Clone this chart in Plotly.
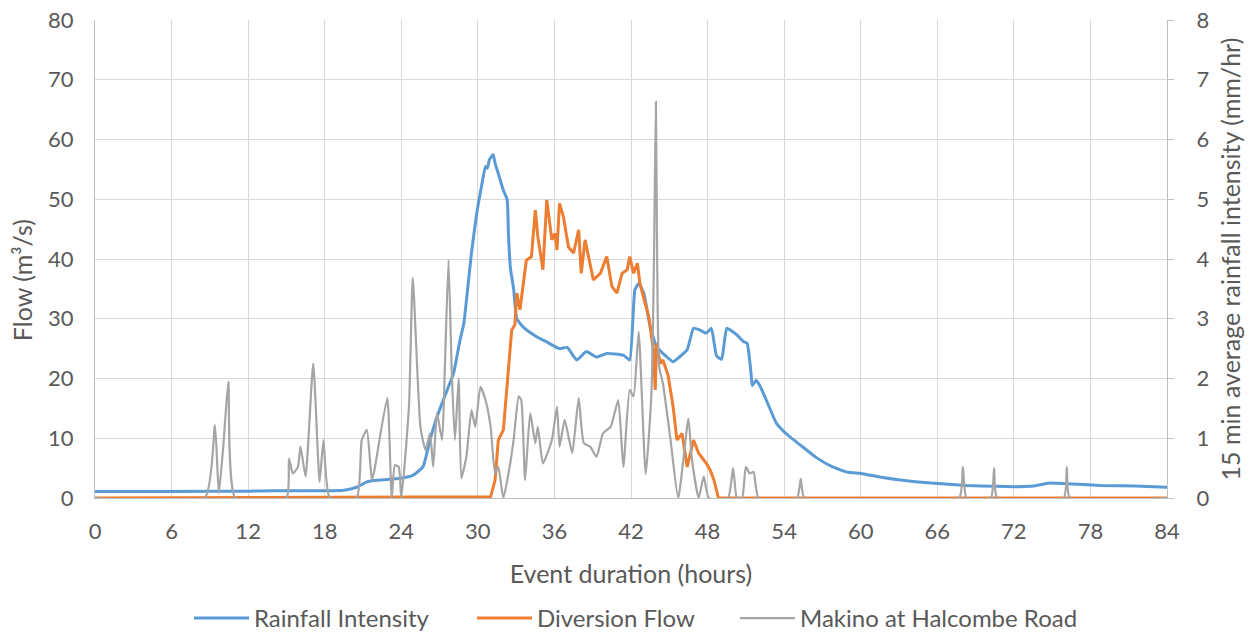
import plotly.graph_objects as go

# ---- Rainfall Intensity (blue, left axis units) ----
blue_hours = [0, 6, 12, 14, 18, 19.5, 20.5, 21.3, 22.3, 23.9, 24.9, 25.7, 26.25, 26.8, 27.6, 28.1,
              28.6, 28.9, 29.2, 29.5, 29.9, 30.3, 30.6, 30.75, 30.9, 31.2, 31.35, 31.6, 32.0, 32.3,
              32.4, 32.55, 32.8, 33.05, 33.6, 34.6, 35.5, 36.4, 37.0, 37.75, 38.5, 39.3, 40.1, 41.4,
              41.9, 42.3, 42.6, 43.0, 43.5, 44.0, 44.5, 45.3, 45.8, 46.4, 46.9, 47.4, 47.9, 48.3,
              48.7, 49.1, 49.5, 50.0, 50.3, 50.8, 51.1, 51.4, 51.5, 51.8, 52.1, 52.6, 53.4, 54.3,
              55.25, 56.5, 57.8, 59.0, 60.0, 61.5, 63.1, 65.5, 68.3, 70.5, 72.2, 73.5, 74.8, 76.1,
              78.8, 81.5, 84]
blue_vals = [1.1, 1.1, 1.15, 1.2, 1.2, 1.3, 1.8, 2.7, 3.0, 3.3, 3.8, 5.2, 9.7, 13.6, 18.1, 20.9,
             26.4, 29.2, 35.0, 41.0, 47.5, 52.3, 55.5, 55.2, 56.6, 57.5, 56.0, 54.3, 51.5, 49.9,
             44.0, 38.5, 35.0, 30.0, 28.5, 27.0, 26.0, 25.0, 25.2, 23.1, 24.5, 23.6, 24.2, 23.9,
             23.1, 34.8, 35.9, 34.3, 28.7, 25.3, 24.2, 22.8, 23.6, 24.8, 28.4, 28.1, 27.6, 28.4,
             23.8, 23.2, 28.4, 27.8, 27.3, 26.2, 25.9, 21.0, 18.8, 19.7, 18.8, 16.4, 12.5, 10.5,
             8.9, 6.8, 5.2, 4.3, 4.1, 3.5, 3.0, 2.5, 2.1, 1.95, 1.9, 2.0, 2.5, 2.4,
             2.1, 2.0, 1.8]

# ---- Diversion Flow (orange, left axis) ----
orange_hours = [0, 31.0, 31.35, 31.6, 32.0, 32.4, 32.65, 32.9, 33.05, 33.3, 33.8, 34.2, 34.5, 34.7,
                35.1, 35.4, 35.8, 36.05, 36.2, 36.4, 36.7, 37.1, 37.5, 37.9, 38.1, 38.4, 38.8, 39.05,
                39.6, 39.8, 40.1, 40.5, 40.9, 41.3, 41.7, 41.9, 42.2, 42.5, 42.7, 43.1, 43.4, 43.75,
                43.9, 44.0, 44.3, 44.5, 44.9, 45.3, 45.6, 46.0, 46.4, 46.9, 47.3, 47.9, 48.2, 48.5,
                48.85, 84]
orange_vals = [0, 0.2, 3.0, 9.7, 11.4, 20.9, 28.1, 29.0, 34.3, 31.5, 39.8, 40.4, 48.2, 43.7,
               38.2, 49.9, 43.2, 44.3, 41.5, 49.3, 47.1, 42.0, 41.0, 44.9, 37.6, 43.2, 39.3, 36.5,
               37.6, 38.7, 40.4, 35.4, 34.3, 37.6, 38.2, 40.4, 37.6, 39.3, 35.9, 32.6, 30.3, 24.8,
               18.1, 25.9, 22.5, 23.1, 20.6, 15.3, 9.7, 10.8, 5.2, 9.7, 7.5, 5.8, 4.7, 3.0,
               0, 0]

# ---- Makino at Halcombe Road (grey, right axis, mm/hr) ----
grey_hours = [0, 8.6, 9.4, 9.7, 10.05, 10.45, 11.0, 15.0, 15.2, 15.5, 15.9, 16.1, 16.5, 17.1, 17.6,
              17.9, 18.4, 20.5, 20.9, 21.3, 21.7, 21.9, 22.9, 23.25, 23.5, 23.8, 24.0, 24.6, 24.9,
              25.5, 25.9, 26.25, 26.5, 26.8, 27.2, 27.4, 27.7, 27.95, 28.2, 28.5, 28.7, 29.1, 29.5,
              29.8, 30.2, 30.6, 31.0, 31.35, 31.6, 32.0, 32.4, 32.8, 33.2, 33.4, 33.7, 34.1, 34.5,
              34.7, 35.1, 35.8, 36.2, 36.4, 36.8, 37.1, 37.4, 37.9, 38.3, 38.8, 39.3, 39.8, 40.4,
              41.0, 41.4, 41.9, 42.2, 42.6, 43.15, 43.6, 43.8, 43.95, 44.05, 44.2, 44.5, 45.1, 45.7,
              46.5, 46.75, 47.3, 47.7, 48.1, 49.6, 50.0, 50.3, 50.7, 51.0, 51.3, 51.6, 52.0, 55.0,
              55.3, 55.6, 67.7, 68.0, 68.3, 70.2, 70.45, 70.7, 75.9, 76.15, 76.4, 84]
grey_vals = [0, 0, 1.22, 0.08, 0.86, 1.95, 0, 0, 0.66, 0.41, 0.52, 0.86, 0.36, 2.25, 0.27,
             0.97, 0, 0, 0.97, 1.14, 0.30, 0.47, 1.67, 0, 0.55, 0.52, 0, 1.53, 3.68,
             1.19, 0.80, 1.08, 0.52, 1.42, 0.97, 2.09, 3.98, 2.14, 0.97, 2.0, 0.33, 0.69, 1.47,
             1.19, 1.86, 1.64, 1.19, 0.41, 0.52, 0, 0.41, 0.97, 1.7, 1.64, 0.30, 1.42, 0.92,
             1.19, 0.58, 0.97, 1.53, 0.86, 1.31, 1.03, 0.75, 1.67, 0.92, 0.86, 0.69, 1.08, 1.19,
             1.64, 0.52, 1.81, 1.7, 2.78, 0.40, 1.75, 4.0, 6.63, 4.0, 2.2, 1.92, 0.97, 0,
             1.33, 0.69, 0, 0.36, 0, 0, 0.50, 0, 0, 0.52, 0.41, 0.44, 0, 0,
             0.32, 0, 0, 0.52, 0, 0, 0.50, 0, 0, 0.52, 0, 0]

x_ticks = list(range(0, 85, 6))
left_ticks = list(range(0, 81, 10))
right_ticks = list(range(0, 9, 1))

FONT = "Lato"
TXT = "#595959"
GRID = "#d9d9d9"

fig = go.Figure()
fig.add_trace(go.Scatter(x=blue_hours, y=blue_vals, mode="lines", name="Rainfall Intensity",
                         legend="legend",
                         line=dict(color="#5B9BD5", width=3, shape="spline", smoothing=0.4)))
fig.add_trace(go.Scatter(x=orange_hours, y=orange_vals, mode="lines", name="Diversion Flow",
                         legend="legend2",
                         line=dict(color="#ED7D31", width=3)))
fig.add_trace(go.Scatter(x=grey_hours, y=grey_vals, mode="lines", name="Makino at Halcombe Road",
                         legend="legend3",
                         yaxis="y2", line=dict(color="#A5A5A5", width=2.2, shape="spline", smoothing=0.5)))

fig.add_annotation(text="Flow (m³/s)", textangle=-90, xref="paper", yref="paper",
                   x=-0.068, xanchor="center", y=0.456, yanchor="middle", showarrow=False,
                   font=dict(size=25, color=TXT, family=FONT))


def leg(px_left):
    return dict(orientation="h", x=(px_left - 95) / 1072, xanchor="left", y=-0.205, yanchor="top",
                font=dict(size=24, color=TXT), itemwidth=55, bgcolor="rgba(0,0,0,0)")


fig.update_layout(
    width=1255, height=633,
    margin=dict(l=95, r=88, t=20, b=135, autoexpand=False),
    paper_bgcolor="white", plot_bgcolor="white",
    font=dict(family=FONT, size=22, color=TXT),
    showlegend=True,
    legend=leg(189), legend2=leg(472), legend3=leg(735),
    xaxis=dict(range=[0, 84], tickvals=x_ticks, ticktext=[str(v) for v in x_ticks],
               automargin=False,
               showgrid=True, gridcolor=GRID, gridwidth=1, zeroline=False,
               showline=True, linecolor="#bfbfbf", linewidth=1,
               ticks="outside", ticklen=14, tickcolor="rgba(0,0,0,0)",
               tickfont=dict(size=22, color=TXT),
               title=dict(text="Event duration (hours)", font=dict(size=25, color=TXT), standoff=22)),
    yaxis=dict(range=[0, 80], tickvals=left_ticks, showgrid=True, gridcolor=GRID, gridwidth=1,
               automargin=False,
               zeroline=False, showline=True, linecolor="#bfbfbf", linewidth=1,
               ticks="outside", ticklen=16, tickcolor="rgba(0,0,0,0)",
               tickfont=dict(size=22, color=TXT)),
    yaxis2=dict(range=[0, 8], tickvals=right_ticks, overlaying="y", side="right",
                automargin=False,
                showgrid=False, zeroline=False, showline=True, linecolor="#bfbfbf", linewidth=1,
                ticks="outside", ticklen=6, tickcolor="#bfbfbf",
                ticklabelstandoff=18,
                tickfont=dict(size=22, color=TXT),
                title=dict(text="15 min average rainfall intensity (mm/hr)",
                           font=dict(size=25, color=TXT), standoff=14)),
)

fig.write_html("out.html")
